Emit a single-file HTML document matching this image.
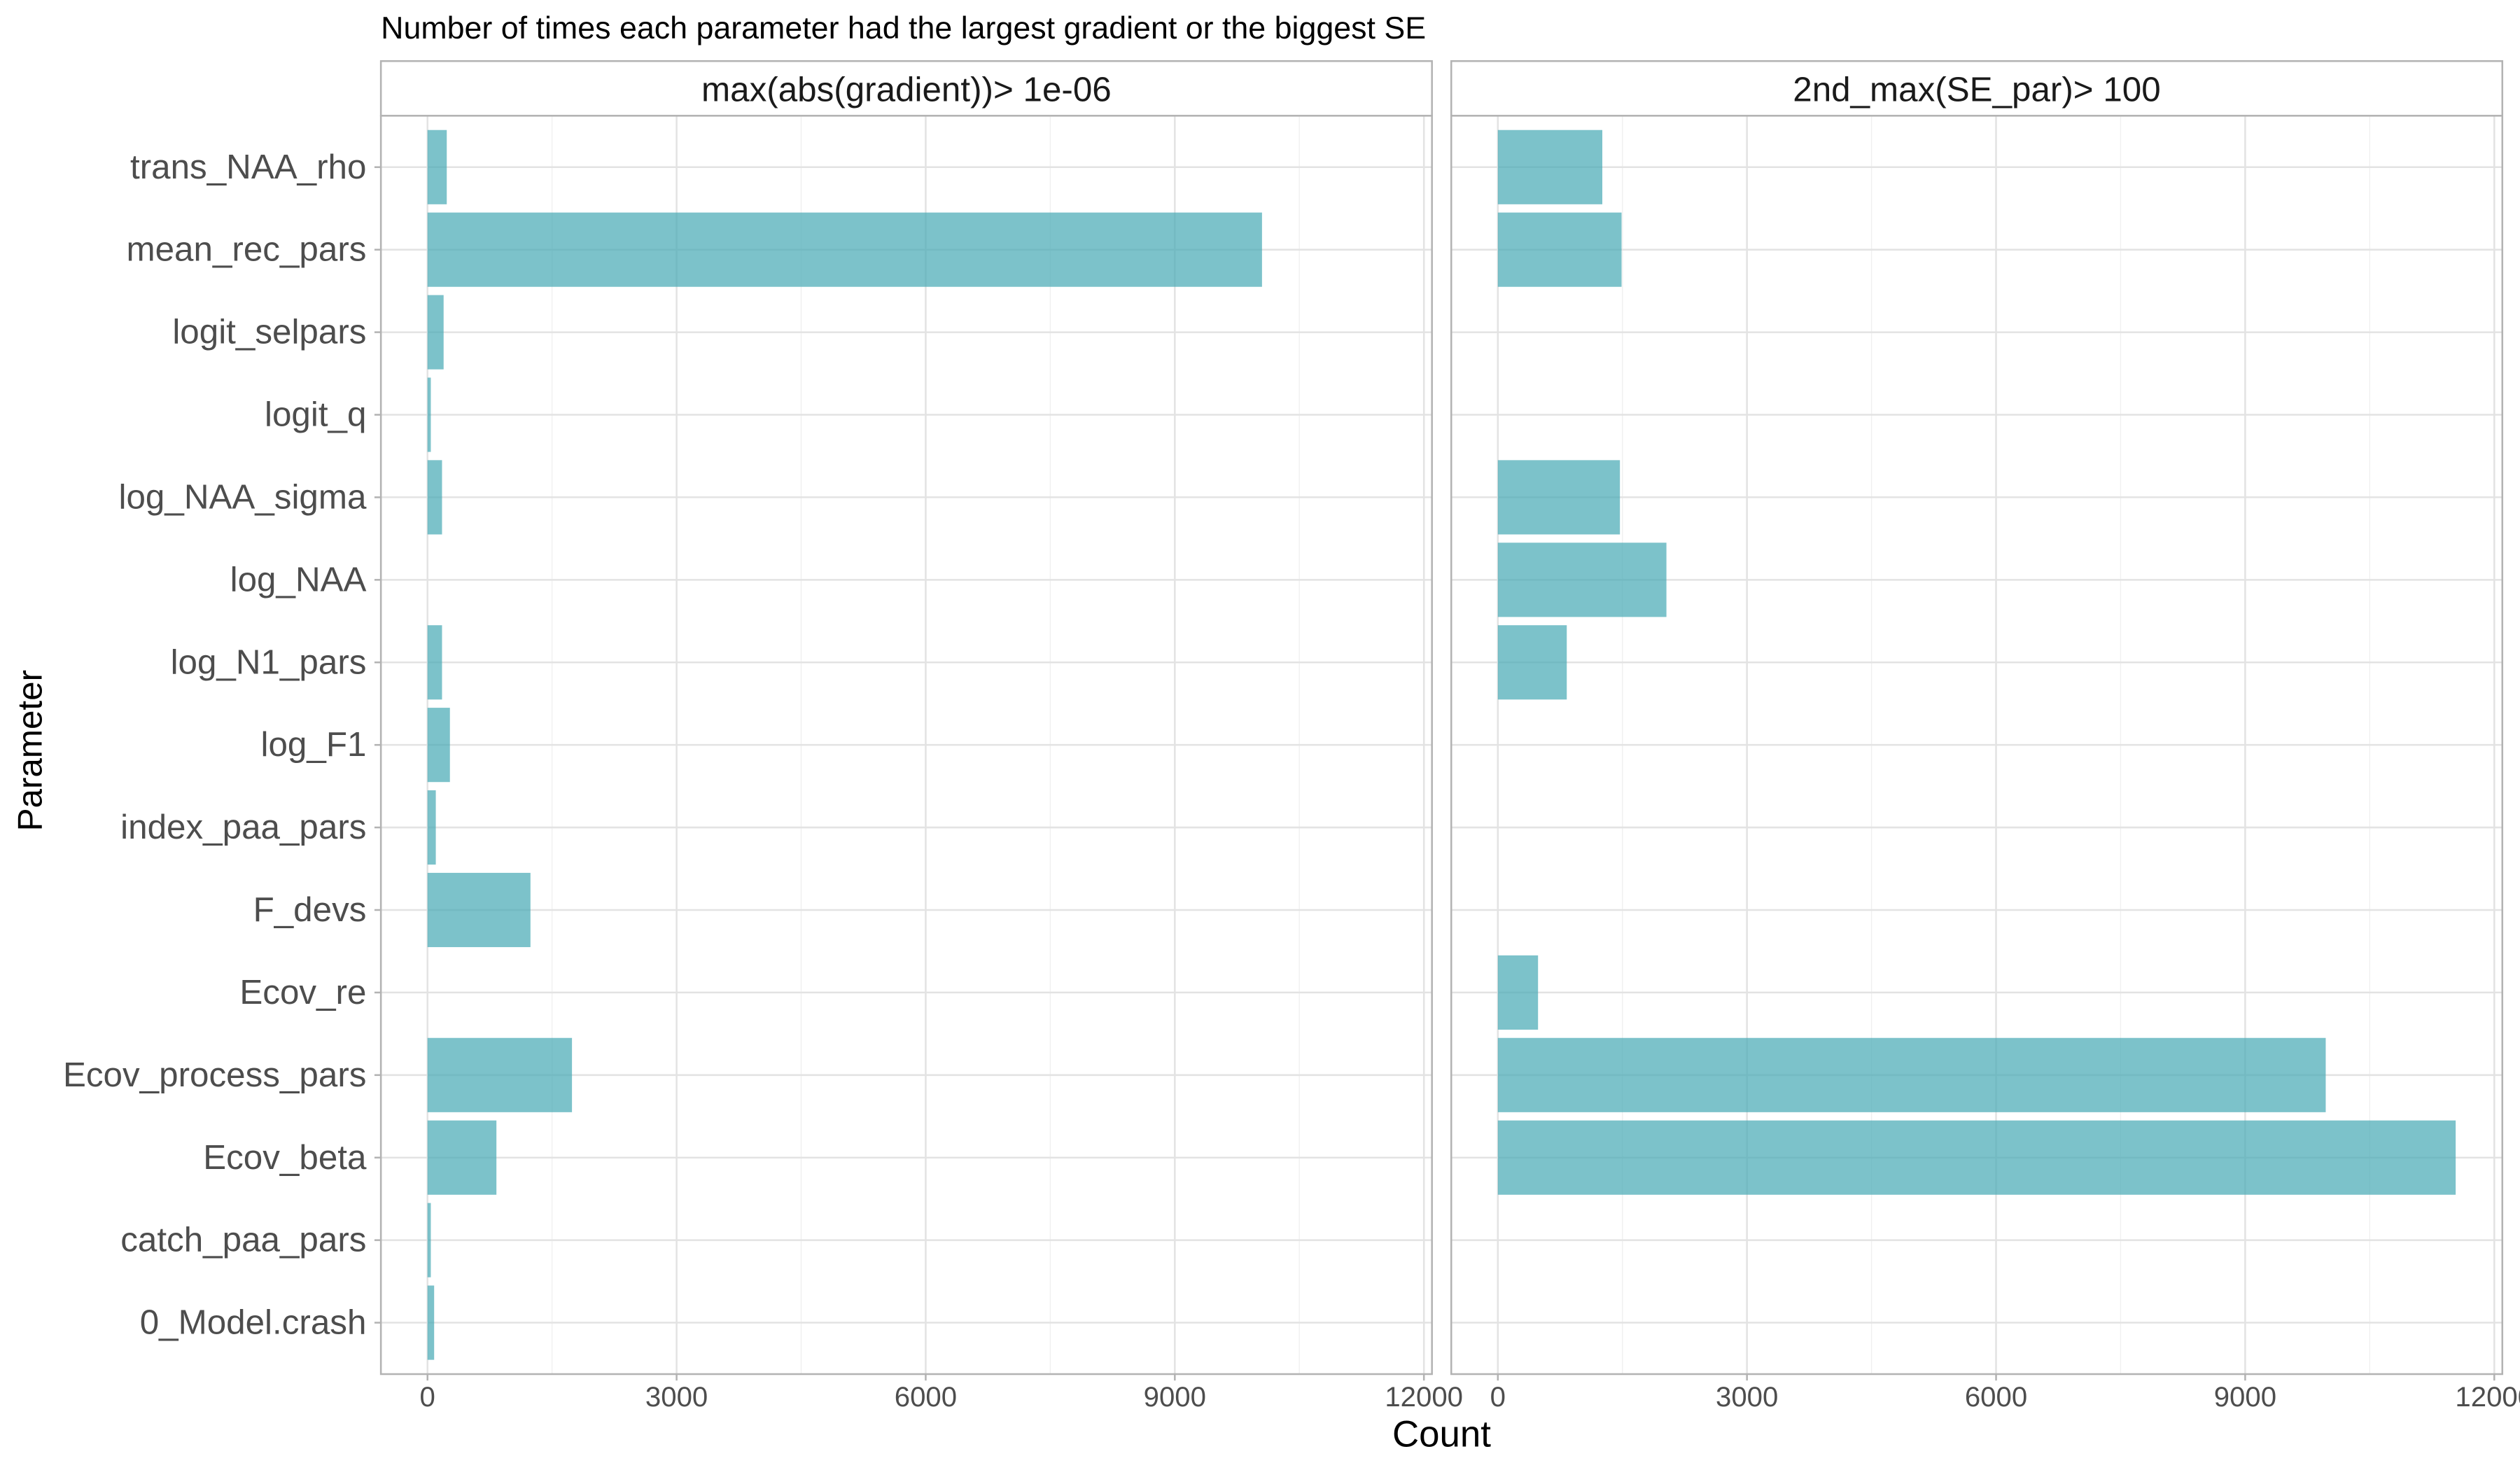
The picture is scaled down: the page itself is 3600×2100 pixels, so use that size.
<!DOCTYPE html>
<html><head><meta charset="utf-8"><style>
html,body{margin:0;padding:0;background:#fff;}
svg{display:block;font-family:"Liberation Sans",Arial,sans-serif;}
</style></head><body>
<svg id="chart" width="3600" height="2100" viewBox="0 0 1568 914.67" preserveAspectRatio="none" xmlns="http://www.w3.org/2000/svg">
<text x="237" y="24" font-size="19.5" fill="#000">Number of times each parameter had the largest gradient or the biggest SE</text>
<text x="897" y="900" font-size="23" text-anchor="middle" fill="#000">Count</text>
<text transform="translate(26,467) rotate(-90)" font-size="21.5" text-anchor="middle" fill="#000">Parameter</text>
<g id="plot"></g>
</svg>
<script>
const categories = ["trans_NAA_rho","mean_rec_pars","logit_selpars","logit_q","log_NAA_sigma","log_NAA","log_N1_pars","log_F1","index_paa_pars","F_devs","Ecov_re","Ecov_process_pars","Ecov_beta","catch_paa_pars","0_Model.crash"];
const gradientCounts = [232,10050,194,40,175,0,175,270,100,1240,0,1740,830,40,80];
const seCounts = [1258,1490,0,0,1470,2030,830,0,0,0,484,9970,11535,0,0];
const xTicks = [0,3000,6000,9000,12000];
const xTickLabels = ["0","3000","6000","9000","12000"];
const panelTitles = ["max(abs(gradient))> 1e-06","2nd_max(SE_par)> 100"];

const NS="http://www.w3.org/2000/svg";
const g=document.getElementById('plot');
function mk(tag,attrs,parent){const e=document.createElementNS(NS,tag);for(const k in attrs)e.setAttribute(k,attrs[k]);(parent||g).appendChild(e);return e;}
const panelTop=72, panelBot=855, stripTop=38;
const panels=[{x0:237,x1:891,zero:266,data:gradientCounts},{x0:903,x1:1557,zero:932,data:seCounts}];
const pxPer=155/3000;
const catStep=(823-104)/(categories.length-1);
function yPos(i){return 104+i*catStep;}
panels.forEach((p,pi)=>{
  const xs=v=>p.zero+v*pxPer;
  const pg=mk('g',{});
  
  
  for(let v=1500;v<=12000;v+=3000){const l=mk('line',{x1:xs(v),x2:xs(v),y1:panelTop,y2:panelBot,stroke:'#f0f0f0','stroke-width':0.6},pg);
    }
  xTicks.forEach(v=>{const l=mk('line',{x1:xs(v),x2:xs(v),y1:panelTop,y2:panelBot,stroke:'#e3e3e3','stroke-width':1.1},pg);
    });
  categories.forEach((c,i)=>{const l=mk('line',{x1:p.x0,x2:p.x1,y1:yPos(i),y2:yPos(i),stroke:'#e3e3e3','stroke-width':1.1},pg);
    });
  const bh=catStep*0.9;
  p.data.forEach((v,i)=>{if(v<=0)return;
    const r=mk('rect',{x:xs(0),y:yPos(i)-bh/2,width:xs(v)-xs(0),height:bh,fill:'#4aaab5','fill-opacity':0.72},pg);
    
    });
  const b=mk('rect',{x:p.x0,y:panelTop,width:p.x1-p.x0,height:panelBot-panelTop,fill:'none',stroke:'#b3b3b3','stroke-width':1.1},pg);
  
  const s=mk('rect',{x:p.x0,y:stripTop,width:p.x1-p.x0,height:panelTop-stripTop,fill:'#fff',stroke:'#b3b3b3','stroke-width':1.1},pg);
  
  const st=mk('text',{x:(p.x0+p.x1)/2,y:63,'font-size':21.5,'text-anchor':'middle',fill:'#1a1a1a'},pg);
  st.textContent=panelTitles[pi];
  
  xTicks.forEach((v,i)=>{
    const t=mk('line',{x1:xs(v),x2:xs(v),y1:panelBot,y2:panelBot+4,stroke:'#b3b3b3','stroke-width':1.1},pg);
    
    const tl=mk('text',{x:xs(v),y:875,'font-size':17.5,'text-anchor':'middle',fill:'#4d4d4d'},pg);
    tl.textContent=xTickLabels[i];
    
  });
});
categories.forEach((c,i)=>{
  const t=mk('line',{x1:233,x2:237,y1:yPos(i),y2:yPos(i),stroke:'#b3b3b3','stroke-width':1.1});
  
  const tl=mk('text',{x:228,y:yPos(i)+7,'font-size':21.5,'text-anchor':'end',fill:'#4d4d4d'});
  tl.textContent=c;
  
});
</script>
</body></html>
